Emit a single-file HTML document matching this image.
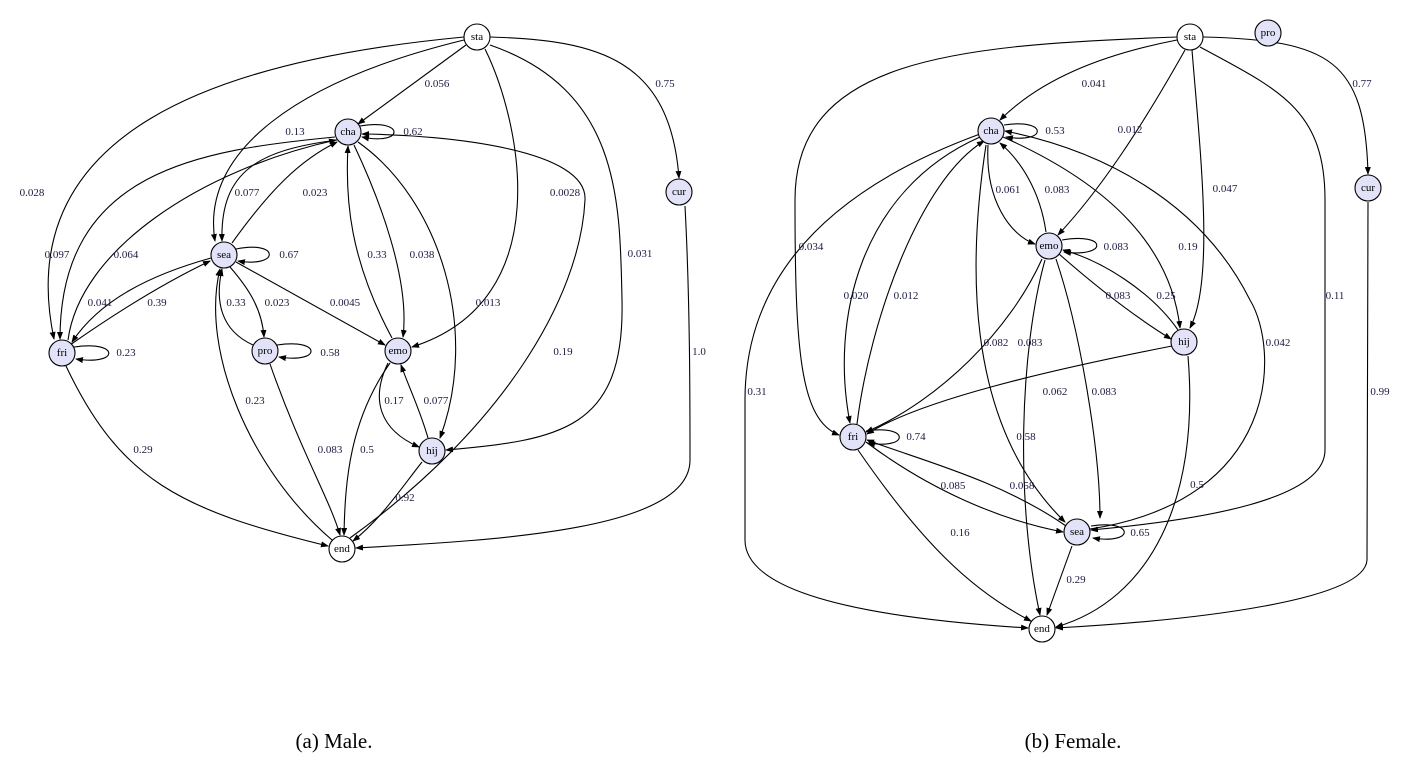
<!DOCTYPE html>
<html><head><meta charset="utf-8"><style>
html,body{margin:0;padding:0;background:#fff}
svg{display:block}
.e{fill:none;stroke:#000;stroke-width:1.1;marker-end:url(#a)}
.n{stroke:#000;stroke-width:1.1}
.l{font-family:"Liberation Serif",serif;font-size:11px;fill:#1a1a40;text-anchor:middle;dominant-baseline:central}
.t{font-family:"Liberation Serif",serif;font-size:11px;fill:#000;text-anchor:middle;dominant-baseline:central}
.c{font-family:"Liberation Serif",serif;font-size:21px;fill:#000;text-anchor:middle}
</style></head><body>
<svg width="1403" height="763" viewBox="0 0 1403 763">
<defs><marker id="a" markerWidth="8" markerHeight="6" refX="7" refY="3" orient="auto" markerUnits="userSpaceOnUse"><path d="M0,0 L8,3 L0,6 z" fill="#000"/></marker></defs>
<g>
<path class="e" d="M466,45 L358,124"/>
<path class="e" d="M464,40 C300,80 200,150 215,241"/>
<path class="e" d="M464,37 C220,60 10,130 54,339"/>
<path class="e" d="M485,49 C520,120 560,300 412,347"/>
<path class="e" d="M490,45 C620,90 620,200 622,300 C625,430 560,440 446,450"/>
<path class="e" d="M490,37 C600,40 670,60 679,178"/>
<path class="e" d="M685,206 C690,300 690,400 690,460 C690,530 500,540 356,548"/>
<path class="e" d="M360,126 C405,118 405,146 362,137"/>
<path class="e" d="M337,140 C260,150 220,170 222,241"/>
<path class="e" d="M232,243 C270,190 300,160 337,142"/>
<path class="e" d="M335,137 C200,150 60,170 60,339"/>
<path class="e" d="M68,340 C80,250 200,170 336,140"/>
<path class="e" d="M354,145 C380,200 410,280 403,337"/>
<path class="e" d="M392,338 C350,260 345,200 348,146"/>
<path class="e" d="M358,142 C440,200 480,330 440,438"/>
<path class="e" d="M350,538 C500,430 580,300 585,200 C588,150 450,135 362,134"/>
<path class="e" d="M236,249 C280,240 280,268 238,261"/>
<path class="e" d="M211,258 C150,275 100,300 72,342"/>
<path class="e" d="M70,345 C120,310 170,280 210,261"/>
<path class="e" d="M230,267 C250,290 262,310 264,337"/>
<path class="e" d="M253,345 C220,330 215,300 222,269"/>
<path class="e" d="M236,262 L385,345"/>
<path class="e" d="M332,540 C250,470 200,350 220,269"/>
<path class="e" d="M74,347 C120,340 120,366 76,359"/>
<path class="e" d="M277,345 C322,338 322,364 279,357"/>
<path class="e" d="M66,366 C120,480 180,510 328,546"/>
<path class="e" d="M270,364 C300,450 330,500 340,535"/>
<path class="e" d="M390,363 C350,420 345,480 344,535"/>
<path class="e" d="M388,363 C370,400 380,430 419,447"/>
<path class="e" d="M428,438 C420,410 410,390 401,365"/>
<path class="e" d="M422,462 C400,490 380,520 353,541"/>
<path class="e" d="M1177,40 C1100,55 1040,80 1000,120"/>
<path class="e" d="M1177,37 C950,45 795,60 795,200 C795,350 800,420 839,435"/>
<path class="e" d="M1185,50 C1140,130 1100,190 1058,235"/>
<path class="e" d="M1192,50 C1200,150 1215,280 1190,328"/>
<path class="e" d="M1200,47 C1280,90 1325,110 1325,200 L1325,450 C1325,500 1200,520 1091,530"/>
<path class="e" d="M1203,37 C1330,40 1365,60 1368,174"/>
<path class="e" d="M1368,202 L1367,560 C1365,600 1200,620 1056,628"/>
<path class="e" d="M1004,125 C1048,118 1048,144 1006,137"/>
<path class="e" d="M988,145 C985,200 1010,235 1035,244"/>
<path class="e" d="M1046,232 C1040,190 1020,160 1000,143"/>
<path class="e" d="M1003,137 C1100,180 1170,240 1180,328"/>
<path class="e" d="M980,137 C860,190 830,320 850,423"/>
<path class="e" d="M857,424 C870,320 920,180 984,141"/>
<path class="e" d="M986,145 C970,250 960,420 1065,522"/>
<path class="e" d="M980,134 C800,200 745,300 745,400 L745,540 C745,600 900,620 1028,628"/>
<path class="e" d="M1090,529 C1280,500 1280,350 1250,300 C1200,200 1100,150 1005,131"/>
<path class="e" d="M1062,240 C1108,232 1108,258 1064,252"/>
<path class="e" d="M1042,259 C1010,330 940,400 866,432"/>
<path class="e" d="M1045,260 C1020,350 1015,500 1040,615"/>
<path class="e" d="M1056,259 C1080,330 1100,450 1100,518"/>
<path class="e" d="M1059,254 C1100,290 1140,320 1171,339"/>
<path class="e" d="M1178,330 C1150,290 1100,260 1063,250"/>
<path class="e" d="M1172,346 C1050,370 920,400 867,434"/>
<path class="e" d="M1188,356 C1200,500 1150,600 1056,627"/>
<path class="e" d="M866,431 C910,424 910,450 868,443"/>
<path class="e" d="M866,442 C930,490 1000,520 1063,532"/>
<path class="e" d="M1066,526 C1000,480 920,460 867,440"/>
<path class="e" d="M858,450 C920,540 970,590 1031,621"/>
<path class="e" d="M1091,526 C1135,519 1135,545 1093,538"/>
<path class="e" d="M1072,546 L1047,615"/>
</g>
<g>
<circle class="n" cx="477" cy="37" r="13" fill="#fff"/><text class="t" x="477" y="37">sta</text>
<circle class="n" cx="348" cy="132" r="13" fill="#e2e2f8"/><text class="t" x="348" y="132">cha</text>
<circle class="n" cx="679" cy="192" r="13" fill="#e2e2f8"/><text class="t" x="679" y="192">cur</text>
<circle class="n" cx="224" cy="255" r="13" fill="#e2e2f8"/><text class="t" x="224" y="255">sea</text>
<circle class="n" cx="62" cy="353" r="13" fill="#e2e2f8"/><text class="t" x="62" y="353">fri</text>
<circle class="n" cx="265" cy="351" r="13" fill="#e2e2f8"/><text class="t" x="265" y="351">pro</text>
<circle class="n" cx="398" cy="351" r="13" fill="#e2e2f8"/><text class="t" x="398" y="351">emo</text>
<circle class="n" cx="432" cy="451" r="13" fill="#e2e2f8"/><text class="t" x="432" y="451">hij</text>
<circle class="n" cx="342" cy="549" r="13" fill="#fff"/><text class="t" x="342" y="549">end</text>
<circle class="n" cx="1190" cy="37" r="13" fill="#fff"/><text class="t" x="1190" y="37">sta</text>
<circle class="n" cx="1268" cy="33" r="13" fill="#e2e2f8"/><text class="t" x="1268" y="33">pro</text>
<circle class="n" cx="991" cy="131" r="13" fill="#e2e2f8"/><text class="t" x="991" y="131">cha</text>
<circle class="n" cx="1368" cy="188" r="13" fill="#e2e2f8"/><text class="t" x="1368" y="188">cur</text>
<circle class="n" cx="1049" cy="246" r="13" fill="#e2e2f8"/><text class="t" x="1049" y="246">emo</text>
<circle class="n" cx="1184" cy="342" r="13" fill="#e2e2f8"/><text class="t" x="1184" y="342">hij</text>
<circle class="n" cx="853" cy="437" r="13" fill="#e2e2f8"/><text class="t" x="853" y="437">fri</text>
<circle class="n" cx="1077" cy="532" r="13" fill="#e2e2f8"/><text class="t" x="1077" y="532">sea</text>
<circle class="n" cx="1042" cy="629" r="13" fill="#fff"/><text class="t" x="1042" y="629">end</text>
</g>
<g>
<text class="l" x="437" y="84">0.056</text><text class="l" x="295" y="132">0.13</text><text class="l" x="32" y="193">0.028</text>
<text class="l" x="565" y="193">0.0028</text><text class="l" x="640" y="254">0.031</text><text class="l" x="665" y="84">0.75</text>
<text class="l" x="699" y="352">1.0</text><text class="l" x="413" y="132">0.62</text><text class="l" x="247" y="193">0.077</text>
<text class="l" x="315" y="193">0.023</text><text class="l" x="57" y="255">0.097</text><text class="l" x="126" y="255">0.064</text>
<text class="l" x="422" y="255">0.038</text><text class="l" x="377" y="255">0.33</text><text class="l" x="488" y="303">0.013</text>
<text class="l" x="563" y="352">0.19</text><text class="l" x="289" y="255">0.67</text><text class="l" x="100" y="303">0.041</text>
<text class="l" x="157" y="303">0.39</text><text class="l" x="277" y="303">0.023</text><text class="l" x="236" y="303">0.33</text>
<text class="l" x="345" y="303">0.0045</text><text class="l" x="255" y="401">0.23</text><text class="l" x="126" y="353">0.23</text>
<text class="l" x="330" y="353">0.58</text><text class="l" x="143" y="450">0.29</text><text class="l" x="330" y="450">0.083</text>
<text class="l" x="367" y="450">0.5</text><text class="l" x="394" y="401">0.17</text><text class="l" x="436" y="401">0.077</text>
<text class="l" x="405" y="498">0.92</text>
<text class="l" x="1094" y="84">0.041</text><text class="l" x="811" y="247">0.034</text><text class="l" x="1130" y="130">0.012</text>
<text class="l" x="1225" y="189">0.047</text><text class="l" x="1335" y="296">0.11</text><text class="l" x="1362" y="84">0.77</text>
<text class="l" x="1380" y="392">0.99</text><text class="l" x="1055" y="131">0.53</text><text class="l" x="1008" y="190">0.061</text>
<text class="l" x="1057" y="190">0.083</text><text class="l" x="1188" y="247">0.19</text><text class="l" x="856" y="296">0.020</text>
<text class="l" x="906" y="296">0.012</text><text class="l" x="996" y="343">0.082</text><text class="l" x="1030" y="343">0.083</text>
<text class="l" x="757" y="392">0.31</text><text class="l" x="1278" y="343">0.042</text><text class="l" x="1116" y="247">0.083</text>
<text class="l" x="1104" y="392">0.083</text><text class="l" x="1118" y="296">0.083</text><text class="l" x="1166" y="296">0.25</text>
<text class="l" x="1055" y="392">0.062</text><text class="l" x="1197" y="485">0.5</text><text class="l" x="916" y="437">0.74</text>
<text class="l" x="953" y="486">0.085</text><text class="l" x="1022" y="486">0.058</text><text class="l" x="960" y="533">0.16</text>
<text class="l" x="1140" y="533">0.65</text><text class="l" x="1076" y="580">0.29</text><text class="l" x="1026" y="437">0.58</text>
</g>
<text class="c" x="334" y="748">(a) Male.</text>
<text class="c" x="1073" y="748">(b) Female.</text>
</svg>
</body></html>
